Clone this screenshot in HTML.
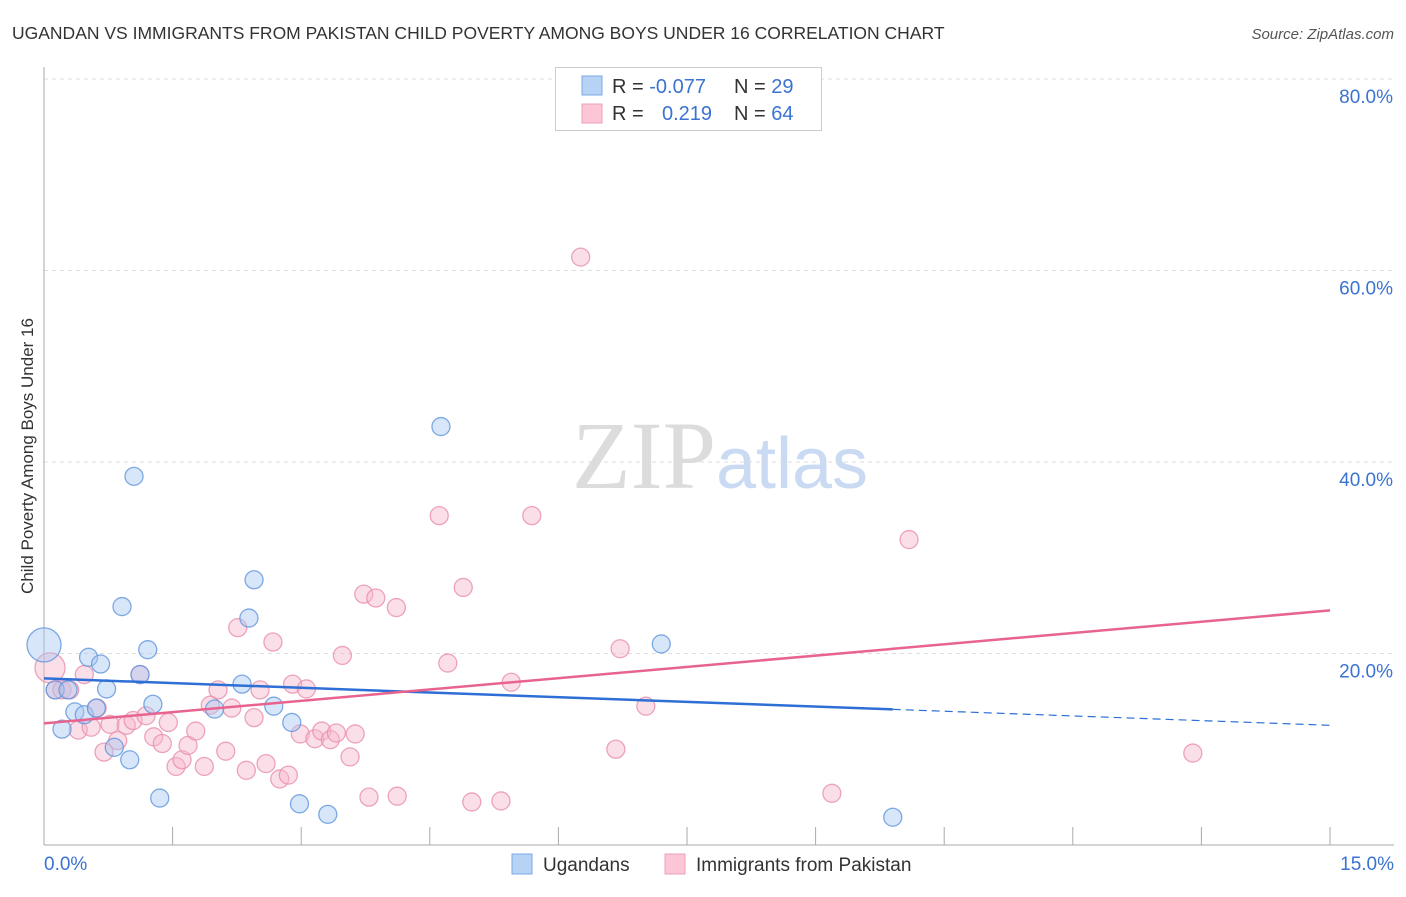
<!DOCTYPE html>
<html><head><meta charset="utf-8"><style>
body{margin:0;background:#fff;font-family:"Liberation Sans",sans-serif;}
svg text{font-family:"Liberation Sans",sans-serif;}
</style></head><body>
<svg id="chart" width="1406" height="892" xmlns="http://www.w3.org/2000/svg">
<text x="12" y="39" font-size="17.5" fill="#333">UGANDAN VS IMMIGRANTS FROM PAKISTAN CHILD POVERTY AMONG BOYS UNDER 16 CORRELATION CHART</text>
<text x="1394" y="39" font-size="15" fill="#555" text-anchor="end" font-style="italic">Source: ZipAtlas.com</text>
<text x="720" y="488" font-size="96" text-anchor="middle"><tspan fill="#dcdcdc" font-family="Liberation Serif">ZIP</tspan><tspan fill="#c9daf2" font-size="72">atlas</tspan></text>
<g id="grid"></g><g id="axes"></g><g id="marks"></g>
<text transform="translate(33,456) rotate(-90)" font-size="17" fill="#333" text-anchor="middle">Child Poverty Among Boys Under 16</text>
<g>
<rect x="555.5" y="67.5" width="266" height="63" fill="#fff" stroke="#ccc"/>
<rect x="582" y="76" width="20" height="19" fill="#b6d2f5" stroke="#7aaae6"/>
<rect x="582" y="104" width="20" height="19" fill="#fcc6d6" stroke="#eea0b8"/>
<text x="612" y="93" font-size="20" fill="#333">R = <tspan fill="#3a73d1">-0.077</tspan></text>
<text x="734" y="93" font-size="20" fill="#333">N = <tspan fill="#3a73d1">29</tspan></text>
<text x="612" y="120" font-size="20" fill="#333">R = </text>
<text x="662" y="120" font-size="20" fill="#3a73d1">0.219</text>
<text x="734" y="120" font-size="20" fill="#333">N = <tspan fill="#3a73d1">64</tspan></text>
</g>
<g>
<rect x="512" y="854" width="20" height="20" fill="#b6d2f5" stroke="#7aaae6"/>
<text x="543" y="871" font-size="19" fill="#333">Ugandans</text>
<rect x="665" y="854" width="20" height="20" fill="#fcc6d6" stroke="#eea0b8"/>
<text x="696" y="871" font-size="19" fill="#333">Immigrants from Pakistan</text>
</g>
</svg>
<script>
const yTicks=[20,40,60,80];
const yTickLabels=["20.0%","40.0%","60.0%","80.0%"];
const xTickLabels=["0.0%","15.0%"];
const ugX=[0,0.13,0.21,0.28,0.36,0.47,0.52,0.61,0.66,0.73,0.82,0.91,1.00,1.05,1.12,1.21,1.27,1.35,1.99,2.31,2.39,2.45,2.68,2.89,2.98,3.31,4.63,7.20,9.90];
const ugY=[20.9,16.2,12.1,16.2,13.9,13.6,19.6,14.3,18.9,16.3,10.2,24.9,8.9,38.5,17.8,20.4,14.7,4.9,14.2,16.8,23.7,27.7,14.5,12.8,4.3,3.2,43.7,21.0,2.9];
const pkX=[0.07,0.13,0.21,0.30,0.40,0.47,0.55,0.62,0.70,0.77,0.86,0.96,1.04,1.12,1.19,1.28,1.38,1.45,1.54,1.61,1.68,1.77,1.87,1.94,2.03,2.12,2.19,2.26,2.36,2.45,2.52,2.59,2.67,2.75,2.85,2.90,2.99,3.06,3.16,3.24,3.34,3.41,3.48,3.57,3.63,3.73,3.79,3.87,4.11,4.12,4.61,4.71,4.89,4.99,5.33,5.45,5.69,6.26,6.67,6.72,7.02,9.19,10.09,13.40];
const pkY=[18.5,16.2,16.2,16.2,12.0,17.8,12.3,14.3,9.7,12.6,10.9,12.5,13.0,17.8,13.5,11.3,10.6,12.8,8.2,8.9,10.4,11.9,8.2,14.6,16.2,9.8,14.3,22.7,7.8,13.3,16.2,8.5,21.2,6.9,7.3,16.8,11.6,16.3,11.1,11.9,11.0,11.7,19.8,9.2,11.6,26.2,5.0,25.8,24.8,5.1,34.4,19.0,26.9,4.5,4.6,17.0,34.4,61.4,10.0,20.5,14.5,5.4,31.9,9.6];
const ugTrend=[17.4,12.5];
const pkTrend=[12.7,24.5];
const X0=44,X1=1330,Y0=845,Y1=79;
const sx=v=>X0+(X1-X0)*v/15;
const sy=v=>Y0-(Y0-Y1)*v/80;
const NS="http://www.w3.org/2000/svg";
function mk(t,a,p){const e=document.createElementNS(NS,t);for(const k in a)e.setAttribute(k,a[k]);p.appendChild(e);return e;}
const grid=document.getElementById('grid'),axes=document.getElementById('axes'),marks=document.getElementById('marks');
yTicks.forEach((v,i)=>{
 const l=mk('line',{x1:X0,x2:1394,y1:sy(v),y2:sy(v),stroke:'#ddd','stroke-dasharray':'4,4'},grid);
 
 
 const t=mk('text',{x:1393,y:sy(v)+24,'font-size':19,fill:'#3a73d1','text-anchor':'end'},axes);
 t.textContent=yTickLabels[i];
 
 
});
const ax=mk('line',{x1:X0,x2:X0,y1:67,y2:Y0,stroke:'#aaa'},axes);


const bx=mk('line',{x1:X0,x2:1394,y1:Y0,y2:Y0,stroke:'#aaa'},axes);


for(let i=0;i<=10;i++){
 const tk=mk('line',{x1:sx(i*1.5),x2:sx(i*1.5),y1:Y0,y2:Y0-18,stroke:'#aaa'},axes);
 
 
}
[[0,'start',44],[15,'end',1394]].forEach((d,i)=>{
 const t=mk('text',{x:d[2],y:870,'font-size':19,fill:'#3a73d1','text-anchor':d[1]},axes);
 t.textContent=xTickLabels[i];
 
 
});
function dots(xs,ys,fill,stroke,name){
 xs.forEach((x,i)=>{
  const r=(i===0)?(name==='ugandan-point'?17:15):9;
  const c=mk('circle',{cx:sx(x),cy:sy(ys[i]),r:r,fill:fill,'fill-opacity':0.45,stroke:stroke,'stroke-width':1.3,'stroke-opacity':0.8},marks);
  
  
 });
}
dots(pkX,pkY,'#f7b8cb','#e88fab','pakistan-point');
dots(ugX,ugY,'#a9c8f1','#5f95dd','ugandan-point');
const xs=9.9;
const ugAt=v=>ugTrend[0]+(ugTrend[1]-ugTrend[0])*v/15;
const l1=mk('line',{x1:sx(0),y1:sy(ugAt(0)),x2:sx(xs),y2:sy(ugAt(xs)),stroke:'#2e6fd6','stroke-width':2.5},marks);


const l2=mk('line',{x1:sx(xs),y1:sy(ugAt(xs)),x2:sx(15),y2:sy(ugAt(15)),stroke:'#2e6fd6','stroke-width':1.2,'stroke-dasharray':'8,5'},marks);


const l3=mk('line',{x1:sx(0),y1:sy(pkTrend[0]),x2:sx(15),y2:sy(pkTrend[1]),stroke:'#e8648f','stroke-width':2.5},marks);


</script>
</body></html>
